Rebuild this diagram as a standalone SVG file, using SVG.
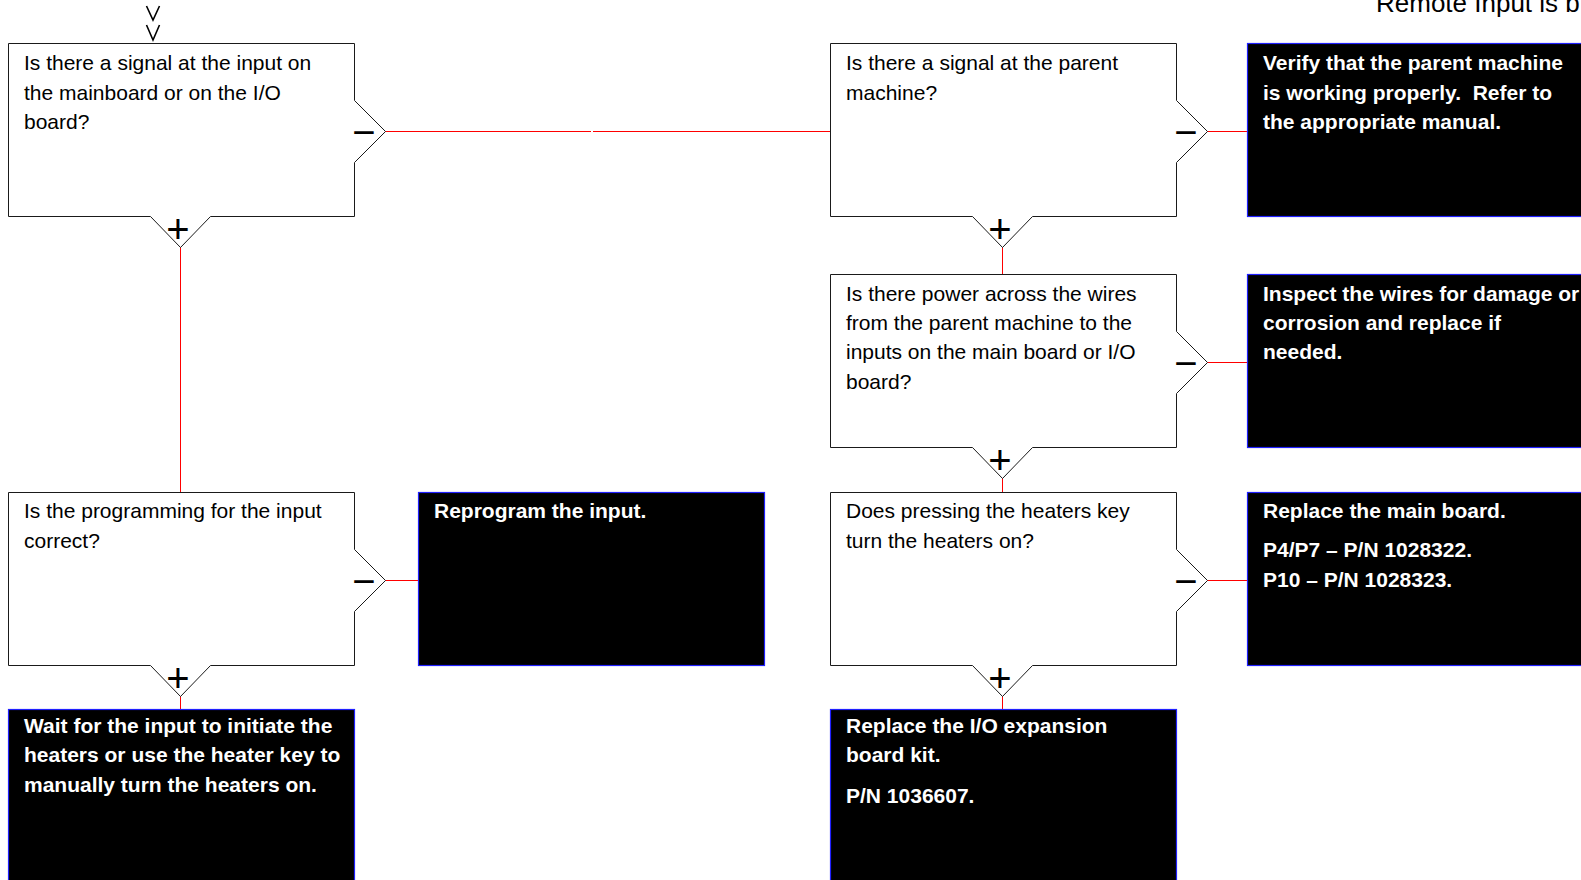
<svg xmlns="http://www.w3.org/2000/svg" width="1581" height="880" viewBox="0 0 1581 880">
  <style>
    .dec { fill: #ffffff; stroke: #1a1a1a; stroke-width: 1; }
    .act { fill: #000000; stroke: #2020ff; stroke-width: 1.2; }
    .q { font-family: "Liberation Sans", Arial, sans-serif; font-size: 21px; fill: #000000; }
    .a { font-family: "Liberation Sans", Arial, sans-serif; font-size: 21px; font-weight: bold; fill: #ffffff; white-space: pre; }
    .sign { font-family: "Liberation Sans", Arial, sans-serif; font-size: 40px; fill: #000000; text-anchor: middle; }
    .title { font-family: "Liberation Sans", Arial, sans-serif; font-size: 26px; fill: #000000; }
    .wire { stroke: #ff0000; stroke-width: 1; fill: none; }
    .entry { stroke: #000000; stroke-width: 1.6; fill: none; }
  </style>
  <defs>
    <!-- decision box: 346 x 173 with a "no" notch on the right and a "yes" notch below -->
    <path id="decision" d="M0,0 H346 V57 L377,88 L346,119 V173 H202 L172,204 L142,173 H0 Z"/>
  </defs>

  <rect x="0" y="0" width="1581" height="880" fill="#ffffff"/>

  <text class="title" x="1376" y="12">Remote Input is b</text>

  <!-- entry arrow -->
  <g id="entry">
    <polyline class="entry" points="146.5,6 153,20 159.5,6"/>
    <polyline class="entry" points="146.5,25 153,40 159.5,25"/>
  </g>

  <g id="connectors">
    <line class="wire" x1="385" y1="131.5" x2="591" y2="131.5"/>
    <line class="wire" x1="593" y1="131.5" x2="830" y2="131.5"/>
    <line class="wire" x1="180.5" y1="247" x2="180.5" y2="492"/>
    <line class="wire" x1="385" y1="580.5" x2="418" y2="580.5"/>
    <line class="wire" x1="180.5" y1="696" x2="180.5" y2="709"/>
    <line class="wire" x1="1207" y1="131.5" x2="1247" y2="131.5"/>
    <line class="wire" x1="1002.5" y1="247" x2="1002.5" y2="274"/>
    <line class="wire" x1="1207" y1="362.5" x2="1247" y2="362.5"/>
    <line class="wire" x1="1002.5" y1="478" x2="1002.5" y2="492"/>
    <line class="wire" x1="1207" y1="580.5" x2="1247" y2="580.5"/>
    <line class="wire" x1="1002.5" y1="696" x2="1002.5" y2="709"/>
  </g>

  <!-- decisions -->
  <g id="q-signal-input">
    <use href="#decision" class="dec" x="8.5" y="43.5"/>
    <text class="q" x="24" y="70">Is there a signal at the input on</text>
    <text class="q" x="24" y="100">the mainboard or on the I/O</text>
    <text class="q" x="24" y="129">board?</text>
    <text class="sign" x="364" y="146">−</text>
    <text class="sign" x="178" y="243">+</text>
  </g>

  <g id="q-parent-signal">
    <use href="#decision" class="dec" x="830.5" y="43.5"/>
    <text class="q" x="846" y="70">Is there a signal at the parent</text>
    <text class="q" x="846" y="100">machine?</text>
    <text class="sign" x="1186" y="146">−</text>
    <text class="sign" x="1000" y="243">+</text>
  </g>

  <g id="q-wire-power">
    <use href="#decision" class="dec" x="830.5" y="274.5"/>
    <text class="q" x="846" y="301">Is there power across the wires</text>
    <text class="q" x="846" y="330">from the parent machine to the</text>
    <text class="q" x="846" y="359">inputs on the main board or I/O</text>
    <text class="q" x="846" y="389">board?</text>
    <text class="sign" x="1186" y="377">−</text>
    <text class="sign" x="1000" y="474">+</text>
  </g>

  <g id="q-programming">
    <use href="#decision" class="dec" x="8.5" y="492.5"/>
    <text class="q" x="24" y="518">Is the programming for the input</text>
    <text class="q" x="24" y="548">correct?</text>
    <text class="sign" x="364" y="595">−</text>
    <text class="sign" x="178" y="692">+</text>
  </g>

  <g id="q-heaters-key">
    <use href="#decision" class="dec" x="830.5" y="492.5"/>
    <text class="q" x="846" y="518">Does pressing the heaters key</text>
    <text class="q" x="846" y="548">turn the heaters on?</text>
    <text class="sign" x="1186" y="595">−</text>
    <text class="sign" x="1000" y="692">+</text>
  </g>

  <!-- actions -->
  <g id="a-verify-parent">
    <rect class="act" x="1247.5" y="43.5" width="346" height="173"/>
    <text class="a" x="1263" y="70">Verify that the parent machine</text>
    <text class="a" x="1263" y="100" xml:space="preserve">is working properly.  Refer to</text>
    <text class="a" x="1263" y="129">the appropriate manual.</text>
  </g>

  <g id="a-inspect-wires">
    <rect class="act" x="1247.5" y="274.5" width="346" height="173"/>
    <text class="a" x="1263" y="301">Inspect the wires for damage or</text>
    <text class="a" x="1263" y="330">corrosion and replace if</text>
    <text class="a" x="1263" y="359">needed.</text>
  </g>

  <g id="a-reprogram">
    <rect class="act" x="418.5" y="492.5" width="346" height="173"/>
    <text class="a" x="434" y="518">Reprogram the input.</text>
  </g>

  <g id="a-main-board">
    <rect class="act" x="1247.5" y="492.5" width="346" height="173"/>
    <text class="a" x="1263" y="518">Replace the main board.</text>
    <text class="a" x="1263" y="557">P4/P7 – P/N 1028322.</text>
    <text class="a" x="1263" y="587">P10 – P/N 1028323.</text>
  </g>

  <g id="a-wait-input">
    <rect class="act" x="8.5" y="709.5" width="346" height="173"/>
    <text class="a" x="24" y="733">Wait for the input to initiate the</text>
    <text class="a" x="24" y="762">heaters or use the heater key to</text>
    <text class="a" x="24" y="792">manually turn the heaters on.</text>
  </g>

  <g id="a-io-kit">
    <rect class="act" x="830.5" y="709.5" width="346" height="173"/>
    <text class="a" x="846" y="733">Replace the I/O expansion</text>
    <text class="a" x="846" y="762">board kit.</text>
    <text class="a" x="846" y="803">P/N 1036607.</text>
  </g>
</svg>
